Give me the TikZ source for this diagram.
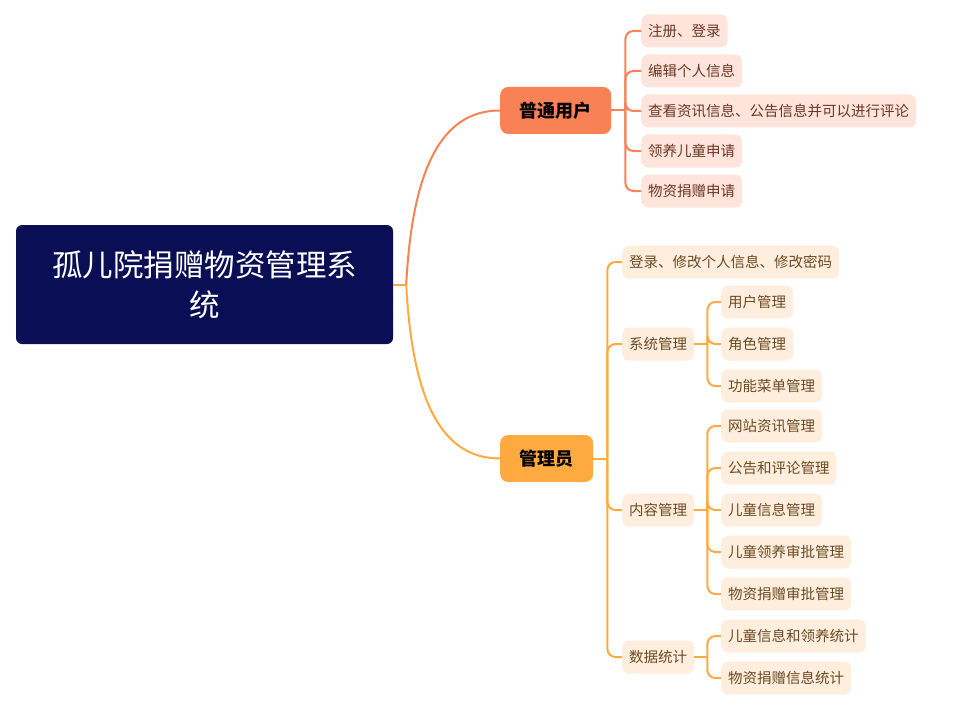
\documentclass[tikz,border=0pt]{standalone}
\usepackage{fontspec}
\setmainfont{Noto Sans CJK SC}
\usetikzlibrary{calc}
\definecolor{rootc}{HTML}{0A0F55}
\definecolor{userc}{HTML}{F98156}
\definecolor{adminc}{HTML}{FFAA40}
\definecolor{userleaf}{HTML}{FFE4DC}
\definecolor{adminleaf}{HTML}{FFEEDD}
\definecolor{usertext}{HTML}{6B3626}
\definecolor{admintext}{HTML}{6B4A22}
\tikzset{
  rootbox/.style={fill=rootc, text=white, rounded corners=6pt, minimum width=377pt, minimum height=119pt, align=center, font=\fontsize{30.5}{40}\selectfont, inner sep=0pt},
  midbox/.style={rounded corners=8pt, minimum height=47pt, inner xsep=19.5pt, font=\fontsize{18}{20}\selectfont\bfseries, text=black, anchor=west},
  uleaf/.style={fill=userleaf, text=usertext, rounded corners=7pt, minimum height=33pt, inner xsep=7pt, font=\fontsize{14.5}{16}\selectfont, anchor=west},
  aleaf/.style={fill=adminleaf, text=admintext, rounded corners=7pt, minimum height=33pt, inner xsep=7pt, font=\fontsize{14.5}{16}\selectfont, anchor=west},
  uline/.style={draw=userc, line width=2pt, rounded corners=8pt},
  aline/.style={draw=adminc, line width=2pt, rounded corners=8pt},
}
\begin{document}
\begin{tikzpicture}[x=1pt,y=-1pt]
\useasboundingbox (0,0) rectangle (958,706);
% root
\node[rootbox] (root) at (204.5,284.5) {孤儿院捐赠物资管理系\\统};
% level 1
\node[midbox, fill=userc] (pu) at (500,110.5) {普通用户};
\node[midbox, fill=adminc] (adm) at (500,458.5) {管理员};
% user leaves
\node[uleaf] (u1) at (641,31) {注册、登录};
\node[uleaf] (u2) at (641,71) {编辑个人信息};
\node[uleaf] (u3) at (641,111) {查看资讯信息、公告信息并可以进行评论};
\node[uleaf] (u4) at (641,151) {领养儿童申请};
\node[uleaf] (u5) at (641,191) {物资捐赠申请};
% admin level 2
\node[aleaf] (a1) at (622,262) {登录、修改个人信息、修改密码};
\node[aleaf] (a2) at (622,344) {系统管理};
\node[aleaf] (a3) at (622,510) {内容管理};
\node[aleaf] (a4) at (622,657) {数据统计};
% system
\node[aleaf] (s1) at (721,302) {用户管理};
\node[aleaf] (s2) at (721,344) {角色管理};
\node[aleaf] (s3) at (721,386) {功能菜单管理};
% content
\node[aleaf] (c1) at (721,426) {网站资讯管理};
\node[aleaf] (c2) at (721,468) {公告和评论管理};
\node[aleaf] (c3) at (721,510) {儿童信息管理};
\node[aleaf] (c4) at (721,552) {儿童领养审批管理};
\node[aleaf] (c5) at (721,594) {物资捐赠审批管理};
% data
\node[aleaf] (d1) at (721,636) {儿童信息和领养统计};
\node[aleaf] (d2) at (721,678) {物资捐赠信息统计};
% root connectors
\coordinate (rj) at ([xshift=13pt]root.east);
\draw[draw=adminc, line width=2pt] (rj) .. controls ([xshift=6pt]$(rj)!0.65!(rj |- adm.west)$) and ([xshift=-60pt]adm.west) .. (adm.west);
\draw[draw=userc, line width=2pt] (rj) .. controls ([xshift=6pt]$(rj)!0.65!(rj |- pu.west)$) and ([xshift=-60pt]pu.west) .. (pu.west);
\draw[draw=adminc, line width=2pt] (root.east) -- (rj);
% user branch
\coordinate (ut) at ([xshift=14pt]pu.east);
\draw[uline] (pu.east) -- (ut);
\foreach \n in {u1,u2,u3,u4,u5}{
  \draw[uline] (ut) |- (\n.west);
}
% admin branch
\coordinate (at) at ([xshift=14pt]adm.east);
\draw[aline] (adm.east) -- (at);
\foreach \n in {a1,a2,a3,a4}{
  \draw[aline] (at) |- (\n.west);
}
\coordinate (st) at ([xshift=13pt]a2.east);
\draw[aline] (a2.east) -- (st);
\foreach \n in {s1,s2,s3}{
  \draw[aline] (st) |- (\n.west);
}
\coordinate (ct) at ([xshift=13pt]a3.east);
\draw[aline] (a3.east) -- (ct);
\foreach \n in {c1,c2,c3,c4,c5}{
  \draw[aline] (ct) |- (\n.west);
}
\coordinate (dt) at ([xshift=13pt]a4.east);
\draw[aline] (a4.east) -- (dt);
\foreach \n in {d1,d2}{
  \draw[aline] (dt) |- (\n.west);
}
\end{tikzpicture}
\end{document}
